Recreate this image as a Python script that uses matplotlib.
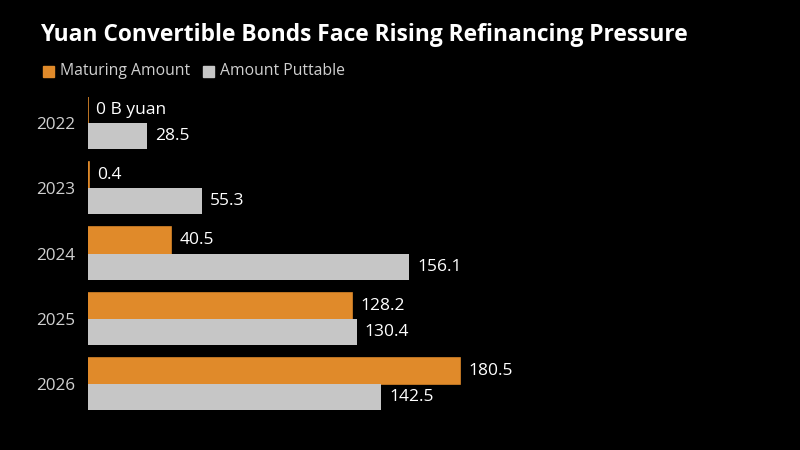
import numpy as np
import matplotlib.pyplot as plt

plt.rcParams['font.family'] = ['Open Sans', 'DejaVu Sans']

years = ['2022', '2023', '2024', '2025', '2026']
maturing = [0, 0.4, 40.5, 128.2, 180.5]
puttable = [28.5, 55.3, 156.1, 130.4, 142.5]
mat_labels = ['0 B yuan', '0.4', '40.5', '128.2', '180.5']
put_labels = ['28.5', '55.3', '156.1', '130.4', '142.5']

orange = '#E08A2A'
gray = '#C6C6C6'

fig = plt.figure(figsize=(8, 4.5), dpi=100, facecolor='black')
ax = fig.add_axes([88/800, 1 - 416.6/450, 692/800, 326.2/450])
ax.set_facecolor('black')

y = np.arange(len(years))
h = 0.4
ax.barh(y - h/2, maturing, height=h, color=orange, edgecolor=orange, linewidth=1.2)
ax.barh(y + h/2, puttable, height=h, color=gray, linewidth=0)

for i in range(len(years)):
    ax.text(maturing[i] + 4, y[i] - h/2, mat_labels[i], color='white',
            fontsize=12.5, va='center', ha='left')
    ax.text(puttable[i] + 4, y[i] + h/2, put_labels[i], color='white',
            fontsize=12.5, va='center', ha='left')

ax.set_xlim(0, 336)
ax.set_ylim(len(years) - 0.5, -0.5)
ax.set_yticks(y)
ax.set_yticklabels(years, color='#D0D0D0', fontsize=12.3)
ax.set_xticks([])
ax.tick_params(axis='y', length=0, pad=9)
for s in ax.spines.values():
    s.set_visible(False)

fig.text(40/800, 1 - 35/450, 'Yuan Convertible Bonds Face Rising Refinancing Pressure',
         color='white', fontsize=16.4, fontweight='bold', va='center', ha='left')

# legend
fig.patches.append(plt.Rectangle((43/800, 1 - 77/450), 11/800, 11/450,
                                 transform=fig.transFigure, color=orange))
fig.text(60/800, 1 - 71/450, 'Maturing Amount', color='#D0D0D0', fontsize=11.3,
         va='center', ha='left')
fig.patches.append(plt.Rectangle((203/800, 1 - 77/450), 11/800, 11/450,
                                 transform=fig.transFigure, color=gray))
fig.text(220/800, 1 - 71/450, 'Amount Puttable', color='#D0D0D0', fontsize=11.3,
         va='center', ha='left')

fig.savefig('out.png', dpi=100, facecolor='black')
